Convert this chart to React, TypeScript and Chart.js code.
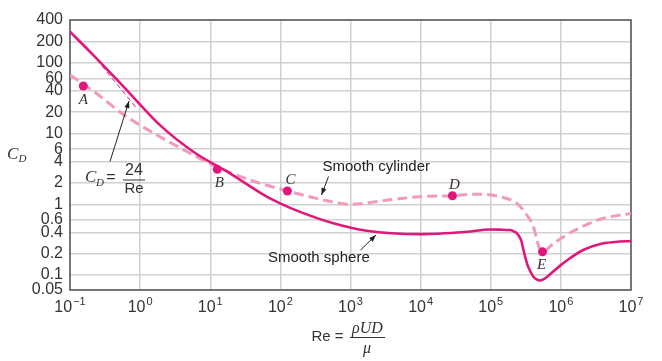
import React, { useEffect, useRef } from 'react';
import { Chart, registerables, LogarithmicScale } from 'chart.js';

// ---------- data ----------
const sphereRe = [0.1, 0.215, 0.644, 1.92, 5.74, 19.1, 64, 99, 191, 570, 1700, 9840, 45600, 98000, 136000, 189000, 216000, 238000, 258000, 276000, 290000, 310000, 331000, 365000, 403000, 452000, 507000, 578000, 659000, 776000, 977000, 1.36e6, 2.08e6, 3.64e6, 5.96e6, 1e7];
const sphereCd = [273, 128, 41, 13.1, 5.52, 2.73, 1.28, 1.03, 0.78, 0.538, 0.423, 0.379, 0.409, 0.44, 0.438, 0.432, 0.412, 0.386, 0.344, 0.293, 0.233, 0.18, 0.143, 0.114, 0.0937, 0.0815, 0.0778, 0.0834, 0.096, 0.112, 0.136, 0.174, 0.226, 0.275, 0.293, 0.303];

const cylRe = [0.1, 0.215, 0.644, 1.92, 5.74, 12.4, 37, 126, 330, 986, 4100, 9840, 28400, 63400, 136000, 236000, 327000, 406000, 455000, 496000, 548000, 785000, 1.5e6, 2.62e6, 4.02e6, 6.36e6, 1e7];
const cylCd = [66.8, 39.7, 17.2, 9.0, 4.96, 3.39, 2.2, 1.54, 1.21, 1.0, 1.17, 1.28, 1.32, 1.39, 1.28, 1.03, 0.705, 0.482, 0.313, 0.238, 0.213, 0.28, 0.419, 0.543, 0.634, 0.694, 0.74];

const stokesRe = [0.204, 0.912];
const stokesCd = [135, 22.1];

const pointRe = [0.155, 12.6, 126, 28400, 547000];
const pointCd = [46.8, 3.11, 1.54, 1.32, 0.213];
const pointLabels = ['A', 'B', 'C', 'D', 'E'];

const xTickExps = [-1, 0, 1, 2, 3, 4, 5, 6, 7];
const yTickValues = [400, 200, 100, 60, 40, 20, 10, 6, 4, 2, 1, 0.6, 0.4, 0.2, 0.1, 0.05];
const yTickLabels = ['400', '200', '100', '60', '40', '20', '10', '6', '4', '2', '1', '0.6', '0.4', '0.2', '0.1', '0.05'];

// ---------- a log scale whose last half-decade (below 0.1) is compressed, as in the figure ----------
const KNEE = -1;
const SQUEEZE = 0.7;
const warp = (v: number) => {
  const l = Math.log10(v);
  return l >= KNEE ? l : KNEE - (KNEE - l) * SQUEEZE;
};
const unwarp = (w: number) => (w >= KNEE ? Math.pow(10, w) : Math.pow(10, KNEE - (KNEE - w) / SQUEEZE));

class WarpedLogScale extends LogarithmicScale {
  static id = 'warpedLog';
  static defaults = (LogarithmicScale as any).defaults;
  getPixelForValue(value: number) {
    const self: any = this;
    if (value === undefined || value <= 0) value = self.min;
    const wMin = warp(self.min);
    const wMax = warp(self.max);
    return self.getPixelForDecimal((warp(value) - wMin) / (wMax - wMin));
  }
  getValueForPixel(pixel: number) {
    const self: any = this;
    const wMin = warp(self.min);
    const wMax = warp(self.max);
    return unwarp(wMin + self.getDecimalForPixel(pixel) * (wMax - wMin));
  }
}

Chart.register(...registerables, WarpedLogScale as any);

const MAGENTA = '#e0187c';
const PINK = '#f299bd';
const TEXT = '#333333';
const SANS = "'Liberation Sans', Arial, sans-serif";
const SERIF = "'Liberation Serif', 'Times New Roman', serif";

function text(ctx: CanvasRenderingContext2D, s: string, x: number, y: number, font: string, align: CanvasTextAlign = 'left') {
  ctx.font = font;
  ctx.textAlign = align;
  ctx.textBaseline = 'middle';
  ctx.fillText(s, x, y);
}

function arrow(ctx: CanvasRenderingContext2D, x1: number, y1: number, x2: number, y2: number) {
  ctx.beginPath();
  ctx.moveTo(x1, y1);
  ctx.lineTo(x2, y2);
  ctx.lineWidth = 1;
  ctx.strokeStyle = '#222';
  ctx.stroke();
  const a = Math.atan2(y2 - y1, x2 - x1);
  const L = 7, W = 2.6;
  ctx.beginPath();
  ctx.moveTo(x2, y2);
  ctx.lineTo(x2 - L * Math.cos(a) + W * Math.sin(a), y2 - L * Math.sin(a) - W * Math.cos(a));
  ctx.lineTo(x2 - L * Math.cos(a) - W * Math.sin(a), y2 - L * Math.sin(a) + W * Math.cos(a));
  ctx.closePath();
  ctx.fillStyle = '#222';
  ctx.fill();
}

const framePlugin = {
  id: 'frame',
  beforeDatasetsDraw(chart: any) {
    const { ctx, chartArea: a } = chart;
    ctx.save();
    ctx.strokeStyle = '#555';
    ctx.lineWidth = 1.5;
    ctx.strokeRect(a.left, a.top, a.right - a.left, a.bottom - a.top);
    ctx.restore();
  },
};

const labelPlugin = {
  id: 'labels',
  afterDraw(chart: any) {
    const { ctx } = chart;
    const xs = chart.scales.x;
    ctx.save();
    ctx.fillStyle = TEXT;

    // x tick labels with superscripts
    xTickExps.forEach((e) => {
      const cx = xs.getPixelForValue(Math.pow(10, e));
      const base = '10';
      const sup = e < 0 ? '\u2212' + Math.abs(e) : String(e);
      ctx.font = `16px ${SANS}`;
      const wb = ctx.measureText(base).width;
      ctx.font = `11px ${SANS}`;
      const ws = ctx.measureText(sup).width;
      const x0 = cx - (wb + ws + 1) / 2;
      text(ctx, base, x0, 308, `16px ${SANS}`);
      text(ctx, sup, x0 + wb + 1, 302, `11px ${SANS}`);
    });

    // y axis title C_D
    text(ctx, 'C', 7, 155, `italic 17px ${SERIF}`);
    text(ctx, 'D', 18.5, 159.5, `italic 11px ${SERIF}`);

    // x axis title Re = rho U D / mu
    text(ctx, 'Re =', 311.5, 337, `15px ${SANS}`);
    text(ctx, '\u03C1UD', 367.5, 329, `italic 16px ${SERIF}`, 'center');
    ctx.beginPath();
    ctx.moveTo(350, 337.5);
    ctx.lineTo(385, 337.5);
    ctx.lineWidth = 1;
    ctx.strokeStyle = TEXT;
    ctx.stroke();
    text(ctx, '\u03BC', 367, 349, `italic 16px ${SERIF}`, 'center');

    // point labels
    const meta = chart.getDatasetMeta(0);
    const offs = [[0, 14], [2, 14], [3, -11], [2, -11], [-1, 13]];
    meta.data.forEach((pt: any, i: number) => {
      text(ctx, pointLabels[i], pt.x + offs[i][0], pt.y + offs[i][1], `italic 15px ${SERIF}`, 'center');
    });

    // C_D = 24/Re
    text(ctx, 'C', 85, 178, `italic 17px ${SERIF}`);
    text(ctx, 'D', 96, 183, `italic 11px ${SERIF}`);
    text(ctx, '=', 111, 178, `16px ${SANS}`, 'center');
    text(ctx, '24', 134, 171, `16px ${SANS}`, 'center');
    ctx.beginPath();
    ctx.moveTo(123, 180);
    ctx.lineTo(145, 180);
    ctx.lineWidth = 1;
    ctx.strokeStyle = TEXT;
    ctx.stroke();
    text(ctx, 'Re', 134, 188.5, `15px ${SANS}`, 'center');
    arrow(ctx, 110, 161.5, 129, 101);

    // curve names
    text(ctx, 'Smooth cylinder', 322.5, 167, `15px ${SANS}`);
    arrow(ctx, 328.5, 176.5, 321.5, 195);
    text(ctx, 'Smooth sphere', 268, 257.5, `15px ${SANS}`);
    arrow(ctx, 360.5, 250, 376, 235);

    ctx.restore();
  },
};

export default function App() {
  const ref = useRef<HTMLCanvasElement>(null);
  useEffect(() => {
    document.body.style.margin = '0';
    const canvas = ref.current!;
    const chart = new Chart(canvas, {
      type: 'line',
      data: {
        datasets: [
          {
            label: 'points',
            data: pointRe.map((x, i) => ({ x, y: pointCd[i] })),
            showLine: false,
            pointRadius: 4.5,
            pointBackgroundColor: MAGENTA,
            pointBorderWidth: 0,
            borderColor: MAGENTA,
          },
          {
            label: 'Smooth sphere',
            data: sphereRe.map((x, i) => ({ x, y: sphereCd[i] })),
            borderColor: MAGENTA,
            borderWidth: 2.6,
            pointRadius: 0,
            cubicInterpolationMode: 'monotone',
          },
          {
            label: 'CD = 24/Re',
            data: stokesRe.map((x, i) => ({ x, y: stokesCd[i] })),
            borderColor: MAGENTA,
            borderWidth: 1,
            borderDash: [5, 3],
            pointRadius: 0,
          },
          {
            label: 'Smooth cylinder',
            data: cylRe.map((x, i) => ({ x, y: cylCd[i] })),
            borderColor: PINK,
            borderWidth: 3,
            borderDash: [10, 5],
            pointRadius: 0,
            cubicInterpolationMode: 'monotone',
          },
        ],
      },
      options: {
        animation: false,
        responsive: false,
        devicePixelRatio: 1,
        layout: { padding: { top: 20, right: 31, left: 0, bottom: 0 } },
        plugins: { legend: { display: false }, tooltip: { enabled: false } },
        scales: {
          x: {
            type: 'logarithmic',
            min: 0.1,
            max: 1e7,
            afterBuildTicks: (s: any) => {
              s.ticks = xTickExps.map((e) => ({ value: Math.pow(10, e) }));
            },
            afterFit: (s: any) => {
              s.height = 71;
            },
            ticks: { display: false },
            grid: { color: '#d0d0d0', lineWidth: 1.5, drawTicks: false },
            border: { display: false },
          },
          y: {
            type: 'warpedLog' as any,
            min: 0.05,
            max: 400,
            afterBuildTicks: (s: any) => {
              s.ticks = yTickValues.map((v) => ({ value: v }));
            },
            afterFit: (s: any) => {
              s.width = 70;
            },
            ticks: {
              autoSkip: false,
              padding: 7,
              color: TEXT,
              font: { family: SANS, size: 16 },
              callback: (_v: any, i: number) => yTickLabels[i],
            },
            grid: { color: '#d0d0d0', lineWidth: 1.5, drawTicks: false },
            border: { display: false },
          },
        },
      },
      plugins: [framePlugin, labelPlugin],
    } as any);
    return () => chart.destroy();
  }, []);
  return (
    <div style={{ width: 662, height: 361 }}>
      <canvas ref={ref} width={662} height={361} style={{ display: 'block' }} />
    </div>
  );
}
